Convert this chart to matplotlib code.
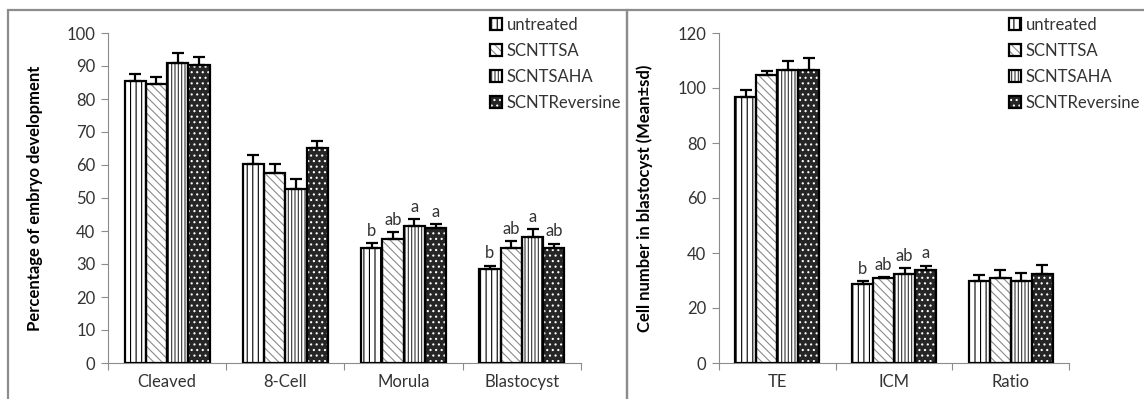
import numpy as np
import matplotlib
matplotlib.use("Agg")
import matplotlib.pyplot as plt
from matplotlib.patches import Patch, Rectangle
from matplotlib.legend_handler import HandlerTuple

plt.rcParams['font.family'] = ['Lato', 'DejaVu Sans']
plt.rcParams['hatch.linewidth'] = 0.8

groups = ["untreated", "SCNTTSA", "SCNTSAHA", "SCNTReversine"]

# left panel: embryo development (%)
stages = ["Cleaved", "8-Cell", "Morula", "Blastocyst"]
dev_mean = {
    "untreated":     [85.5, 60.2, 34.9, 28.4],
    "SCNTTSA":       [84.5, 57.5, 37.6, 34.9],
    "SCNTSAHA":      [91.0, 52.8, 41.5, 38.3],
    "SCNTReversine": [90.3, 65.1, 40.8, 34.9],
}
dev_err = {
    "untreated":     [2.2, 2.8, 1.4, 1.1],
    "SCNTTSA":       [2.3, 2.8, 2.0, 2.0],
    "SCNTSAHA":      [2.9, 3.1, 2.0, 2.4],
    "SCNTReversine": [2.3, 2.3, 1.2, 1.3],
}
dev_letters = {
    "untreated":     ["", "", "b", "b"],
    "SCNTTSA":       ["", "", "ab", "ab"],
    "SCNTSAHA":      ["", "", "a", "a"],
    "SCNTReversine": ["", "", "a", "ab"],
}

# right panel: cell number in blastocyst
cells = ["TE", "ICM", "Ratio"]
cell_mean = {
    "untreated":     [96.9, 28.8, 29.7],
    "SCNTTSA":       [104.8, 31.0, 30.9],
    "SCNTSAHA":      [106.6, 32.5, 29.7],
    "SCNTReversine": [106.6, 34.0, 32.5],
}
cell_err = {
    "untreated":     [2.4, 0.9, 2.4],
    "SCNTTSA":       [1.4, 0.3, 2.8],
    "SCNTSAHA":      [3.1, 2.1, 3.0],
    "SCNTReversine": [4.4, 1.4, 3.0],
}
cell_letters = {
    "untreated":     ["", "b", ""],
    "SCNTTSA":       ["", "ab", ""],
    "SCNTSAHA":      ["", "ab", ""],
    "SCNTReversine": ["", "a", ""],
}

# fill, hatch, hatch colour
styles = {
    "untreated":     ("white", "|||", "black"),
    "SCNTTSA":       ("white", "\\\\\\\\", "#8a8a8a"),
    "SCNTSAHA":      ("white", "|||||", "#333333"),
    "SCNTReversine": ("#262626", "...", "white"),
}

W, H = 1144, 399
fig = plt.figure(figsize=(W / 100, H / 100), dpi=100)

# panel frames
for x0, x1 in [(8, 627), (627, 1150)]:
    fig.patches.append(Rectangle((x0 / W, -0.05), (x1 - x0) / W, 1.05 - 10 / H,
                                 transform=fig.transFigure, fill=False,
                                 edgecolor="#8c8c8c", lw=1.6))

txt = "#333333"
fs = 12
bw = 0.18


def panel(ax, cats, means, errs, letters, ymax, ystep, ylabel):
    x = np.arange(len(cats))
    handles = []
    for i, g in enumerate(groups):
        fc, hatch, hc = styles[g]
        xs = x + (i - 1.5) * bw
        ax.bar(xs, means[g], bw, color=fc, hatch=hatch, edgecolor=hc, lw=0, zorder=2)
        ax.bar(xs, means[g], bw, fill=False, edgecolor="black", lw=1.6, zorder=3)
        ax.errorbar(xs, means[g], yerr=[np.zeros(len(cats)), errs[g]], fmt="none",
                    ecolor="black", elinewidth=1.6, capsize=4, capthick=1.6, zorder=4)
        for xi, m, e, t in zip(xs, means[g], errs[g], letters[g]):
            if t:
                ax.annotate(t, (xi, m + e), xytext=(0, 3), textcoords="offset points",
                            ha="center", va="bottom", fontsize=fs, color=txt)
        h1 = Patch(facecolor=fc, hatch=hatch, edgecolor=hc, lw=0)
        h2 = Patch(fill=False, edgecolor="black", lw=1.6)
        handles.append((h1, h2))
    ax.set_xlim(-0.5, len(cats) - 0.5)
    ax.set_ylim(0, ymax)
    ax.set_yticks(np.arange(0, ymax + 1, ystep))
    ax.set_xticks(np.arange(-0.5, len(cats), 1.0))
    ax.set_xticklabels([])
    ax.set_xticks(x, cats, minor=True)
    ax.tick_params(axis="x", which="minor", length=0, pad=8, labelsize=fs, labelcolor=txt)
    ax.tick_params(axis="x", which="major", length=5, color="#8c8c8c")
    ax.tick_params(axis="y", length=5, color="#8c8c8c", labelsize=fs, labelcolor=txt, pad=4)
    for s in ["top", "right"]:
        ax.spines[s].set_visible(False)
    for s in ["left", "bottom"]:
        ax.spines[s].set_color("#8c8c8c")
    ax.set_ylabel(ylabel, fontsize=12, fontweight="bold", color="black")
    return handles


bottom = 1 - 363 / H
height = (363 - 33) / H

ax1 = fig.add_axes([108 / W, bottom, (581 - 108) / W, height])
hs = panel(ax1, stages, dev_mean, dev_err, dev_letters, 100, 10,
           "Percentage of embryo development")
ax1.yaxis.set_label_coords((43 - 108) / (581 - 108), 0.5)

ax2 = fig.add_axes([719 / W, bottom, (1069 - 719) / W, height])
panel(ax2, cells, cell_mean, cell_err, cell_letters, 120, 20,
      "Cell number in blastocyst (Mean\u00b1sd)")
ax2.yaxis.set_label_coords((653 - 719) / (1069 - 719), 0.5)

for lx in [490, 1009]:
    fig.legend(hs, groups, loc="upper left", bbox_to_anchor=(lx / W, 1 - 17 / H),
               bbox_transform=fig.transFigure, frameon=False, fontsize=fs,
               handlelength=0.7, handleheight=0.7, handletextpad=0.3,
               labelspacing=0.6, borderpad=0, borderaxespad=0,
               handler_map={tuple: HandlerTuple(ndivide=1)}, labelcolor=txt)

fig.savefig("out.png", dpi=100)
